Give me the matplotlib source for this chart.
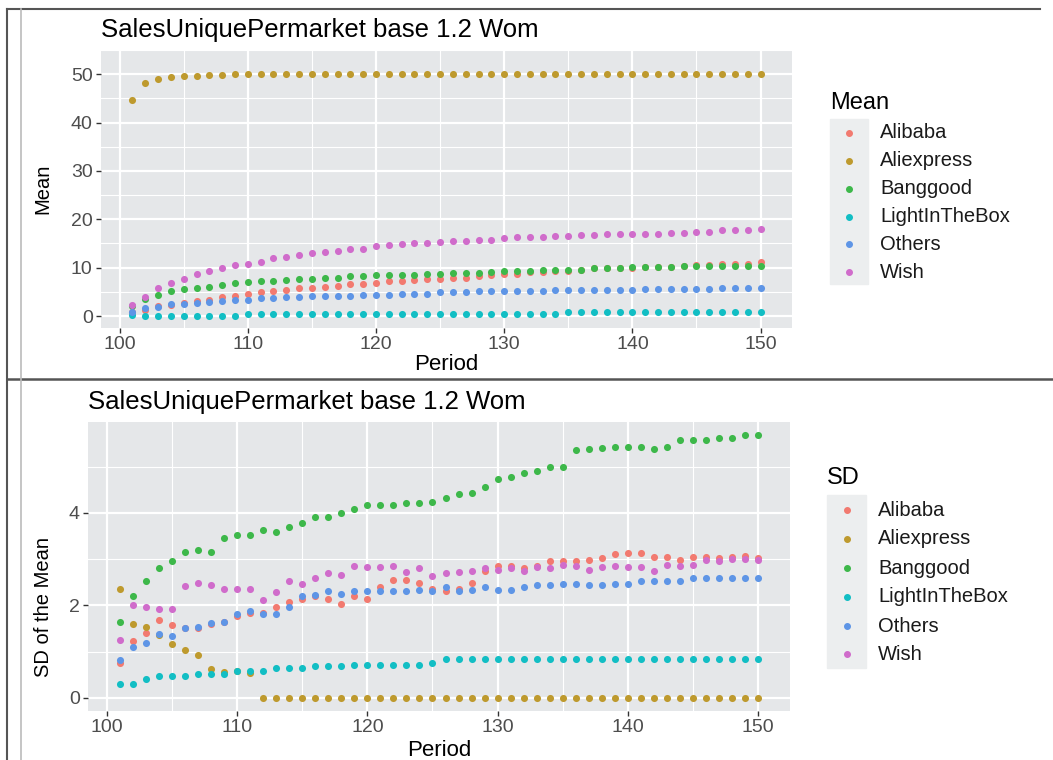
import numpy as np
import matplotlib
matplotlib.use("Agg")
import matplotlib.pyplot as plt
from matplotlib.lines import Line2D
from matplotlib.patches import Rectangle

W, H = 1053, 760

periods = list(range(101, 151))
sellers = ["Alibaba", "Aliexpress", "Banggood", "LightInTheBox", "Others", "Wish"]
colors = ["#F27A70", "#BE9A2E", "#3DB84A", "#12BEC4", "#5E95E6", "#D06CCB"]

# mean per period
mean_alibaba = [0.8, 1.3, 2.0, 2.2, 2.6, 3.2, 3.4, 3.9, 4.2, 4.6,
                4.9, 5.1, 5.4, 5.8, 5.8, 6.1, 6.3, 6.7, 6.7, 6.8,
                7.2, 7.2, 7.5, 7.7, 7.7, 7.9, 7.9, 8.2, 8.5, 8.7,
                8.7, 9.0, 9.2, 9.3, 9.4, 9.6, 9.9, 9.9, 9.9, 9.9,
                10.1, 10.1, 10.1, 10.3, 10.6, 10.6, 10.8, 10.8, 10.8, 11.1]
mean_aliexpress = [44.6, 48.2, 49.1, 49.4, 49.6, 49.6, 49.8, 49.8] + [50.0] * 42
mean_banggood = [2.0, 3.6, 4.3, 5.1, 5.6, 5.8, 6.1, 6.5, 6.8, 7.1,
                 7.3, 7.3, 7.5, 7.7, 7.7, 7.9, 7.9, 8.2, 8.2, 8.5,
                 8.5, 8.5, 8.5, 8.7, 8.7, 8.9, 8.9, 8.9, 9.1, 9.3,
                 9.3, 9.3, 9.6, 9.6, 9.6, 9.6, 9.9, 9.9, 9.9, 10.1,
                 10.1, 10.1, 10.1, 10.3, 10.3, 10.3, 10.3, 10.3, 10.3, 10.3]
mean_lightinthebox = [0.2] + [0.1] * 8 + [0.5] * 25 + [0.8] * 16
mean_others = [0.9, 1.6, 1.9, 2.5, 2.5, 2.7, 3.0, 3.2, 3.4, 3.4,
               3.7, 3.7, 3.9, 3.9, 4.2, 4.2, 4.2, 4.2, 4.4, 4.4,
               4.4, 4.6, 4.6, 4.6, 4.9, 4.9, 4.9, 5.2, 5.2, 5.2,
               5.2, 5.2, 5.2, 5.4, 5.4, 5.4, 5.4, 5.4, 5.4, 5.4,
               5.6, 5.6, 5.6, 5.6, 5.6, 5.6, 5.8, 5.8, 5.8, 5.8]
mean_wish = [2.3, 4.0, 5.8, 6.8, 7.7, 8.7, 9.3, 9.9, 10.6, 10.8,
             11.2, 12.0, 12.2, 12.7, 13.0, 13.2, 13.4, 13.9, 13.9, 14.4,
             14.6, 14.8, 15.1, 15.1, 15.3, 15.5, 15.5, 15.8, 15.8, 16.1,
             16.3, 16.3, 16.3, 16.5, 16.5, 16.7, 16.7, 17.0, 17.0, 17.0,
             17.0, 17.0, 17.2, 17.2, 17.4, 17.4, 17.7, 17.7, 17.7, 17.9]

# sd of the mean per period
sd_alibaba = [0.76, 1.23, 1.41, 1.68, 1.57, 1.51, 1.51, 1.60, 1.63, 1.76,
              1.84, 1.84, 1.97, 2.08, 2.14, 2.20, 2.14, 2.03, 2.20, 2.14,
              2.39, 2.55, 2.55, 2.49, 2.36, 2.31, 2.36, 2.49, 2.75, 2.85,
              2.85, 2.80, 2.85, 2.96, 2.96, 2.96, 2.99, 3.02, 3.10, 3.13,
              3.13, 3.05, 3.05, 2.99, 3.05, 3.05, 3.02, 3.05, 3.07, 3.02]
sd_aliexpress = [2.36, 1.60, 1.54, 1.36, 1.17, 1.03, 0.92, 0.62, 0.56, 0.57,
                 0.54] + [0.0] * 39
sd_banggood = [1.65, 2.20, 2.52, 2.80, 2.96, 3.15, 3.20, 3.15, 3.45, 3.53,
               3.53, 3.62, 3.58, 3.70, 3.78, 3.91, 3.91, 3.99, 4.08, 4.16,
               4.16, 4.16, 4.21, 4.21, 4.24, 4.32, 4.40, 4.43, 4.56, 4.73,
               4.78, 4.86, 4.91, 5.00, 5.00, 5.35, 5.38, 5.41, 5.43, 5.43,
               5.43, 5.38, 5.43, 5.57, 5.57, 5.57, 5.62, 5.62, 5.68, 5.68]
sd_lightinthebox = [0.29, 0.29, 0.40, 0.48, 0.48, 0.48, 0.51, 0.51, 0.51, 0.59,
                    0.59, 0.59, 0.65, 0.65, 0.65, 0.68, 0.68, 0.68, 0.70, 0.70,
                    0.70, 0.70, 0.70, 0.70, 0.76] + [0.84] * 25
sd_others = [0.81, 1.11, 1.19, 1.39, 1.33, 1.52, 1.54, 1.62, 1.65, 1.82,
             1.87, 1.82, 1.82, 1.97, 2.20, 2.22, 2.31, 2.25, 2.31, 2.31,
             2.31, 2.31, 2.31, 2.34, 2.31, 2.39, 2.31, 2.34, 2.39, 2.34,
             2.34, 2.39, 2.44, 2.44, 2.46, 2.46, 2.44, 2.44, 2.46, 2.46,
             2.52, 2.52, 2.52, 2.52, 2.60, 2.60, 2.60, 2.60, 2.60, 2.60]
sd_wish = [1.25, 2.00, 1.97, 1.92, 1.92, 2.41, 2.49, 2.44, 2.36, 2.36,
           2.36, 2.11, 2.28, 2.52, 2.46, 2.60, 2.69, 2.66, 2.85, 2.83,
           2.83, 2.85, 2.72, 2.80, 2.63, 2.69, 2.72, 2.75, 2.80, 2.77,
           2.80, 2.75, 2.83, 2.80, 2.88, 2.85, 2.77, 2.83, 2.85, 2.83,
           2.83, 2.75, 2.88, 2.85, 2.88, 2.98, 2.95, 3.01, 3.01, 2.98]

title = "SalesUniquePermarket base 1.2 Wom"
x_ticks = [100, 110, 120, 130, 140, 150]
mean_ticks = [0, 10, 20, 30, 40, 50]
sd_ticks = [0, 2, 4]

plt.rcParams['font.family'] = ['Liberation Sans', 'DejaVu Sans']


def px_rect(left, top, right, bottom):
    # pixel box (y from top) -> figure fraction
    return [left / W, 1 - bottom / H, (right - left) / W, (bottom - top) / H]


def expand(vals):
    lo, hi = min(vals), max(vals)
    pad = (hi - lo) * 0.05
    return lo - pad, hi + pad


def draw_panel(ax, series, ylabel, yticks, ylab_x, ylab_y, xlab_y):
    ax.set_facecolor("#E5E7E9")
    for vals, col in zip(series, colors):
        ax.scatter(periods, vals, s=26, color=col, linewidths=0, zorder=3)

    allv = [v for s in series for v in s]
    ax.set_xlim(expand(periods))
    ax.set_ylim(expand(allv))

    ax.set_xticks(x_ticks)
    ax.set_yticks(yticks)
    ax.set_xticks([t + 5 for t in x_ticks[:-1]], minor=True)
    ax.set_yticks([t + (yticks[1] - yticks[0]) / 2 for t in yticks], minor=True)
    ax.grid(which="major", color="white", linewidth=1.6)
    ax.grid(which="minor", color="white", linewidth=0.8)
    ax.set_axisbelow(True)
    for sp in ax.spines.values():
        sp.set_visible(False)
    ax.tick_params(which="major", length=3.5, width=1, color="#333333",
                   labelsize=14, labelcolor="#4d4d4d", pad=2.5)
    ax.tick_params(which="minor", length=0)

    ax.set_title(title, loc="left", fontsize=18.5, pad=9)
    ax.set_xlabel("Period", fontsize=16)
    ax.xaxis.set_label_coords(0.5, xlab_y)
    ax.set_ylabel(ylabel, fontsize=14.5)
    ax.yaxis.set_label_coords(ylab_x, ylab_y)


def draw_legend(fig, name, title_y, box, label_x, rows):
    fig.text(box[0] / W, 1 - title_y / H, name, fontsize=17, va="center")
    fig.add_artist(Rectangle((box[0] / W, 1 - box[3] / H),
                             (box[2] - box[0]) / W, (box[3] - box[1]) / H,
                             transform=fig.transFigure, color="#ECEEEF", zorder=0))
    cx = (box[0] + box[2]) / 2
    for lab, col, ry in zip(sellers, colors, rows):
        fig.add_artist(Line2D([cx / W], [1 - ry / H], marker="o", markersize=4,
                              color=col, linestyle="none", transform=fig.transFigure))
        fig.text(label_x / W, 1 - ry / H, lab, fontsize=14.5, va="center", color="#1a1a1a")


fig = plt.figure(figsize=(W / 100, H / 100), dpi=100)

ax1 = fig.add_axes(px_rect(101, 50, 792, 327.6))
draw_panel(ax1, [mean_alibaba, mean_aliexpress, mean_banggood,
                 mean_lightinthebox, mean_others, mean_wish],
           "Mean", mean_ticks, -0.07, 0.5, -0.095)

ax2 = fig.add_axes(px_rect(88, 422, 790, 711))
draw_panel(ax2, [sd_alibaba, sd_aliexpress, sd_banggood,
                 sd_lightinthebox, sd_others, sd_wish],
           "SD of the Mean", sd_ticks, -0.05, 0.36, -0.1)

draw_legend(fig, "Mean", 103, (830, 119, 868, 284), 880,
            [133, 161, 189, 217, 244, 272])
draw_legend(fig, "SD", 478, (827, 495, 866, 668), 878,
            [510, 539, 568, 597, 626, 654])

# borders of the screenshot cells
def hline(y, x0, x1, col, lw):
    fig.add_artist(Line2D([x0 / W, x1 / W], [1 - y / H, 1 - y / H], color=col,
                          linewidth=lw, transform=fig.transFigure))

def vline(x, y0, y1, col, lw):
    fig.add_artist(Line2D([x / W, x / W], [1 - y0 / H, 1 - y1 / H], color=col,
                          linewidth=lw, transform=fig.transFigure))

hline(9, 7, 1040, "#555555", 1.5)
hline(379, 7, 1053, "#555555", 1.8)
vline(7, 9, 760, "#555555", 1.5)
vline(21, 9, 760, "#bbbbbb", 1.2)

fig.savefig("out.png", dpi=100)
